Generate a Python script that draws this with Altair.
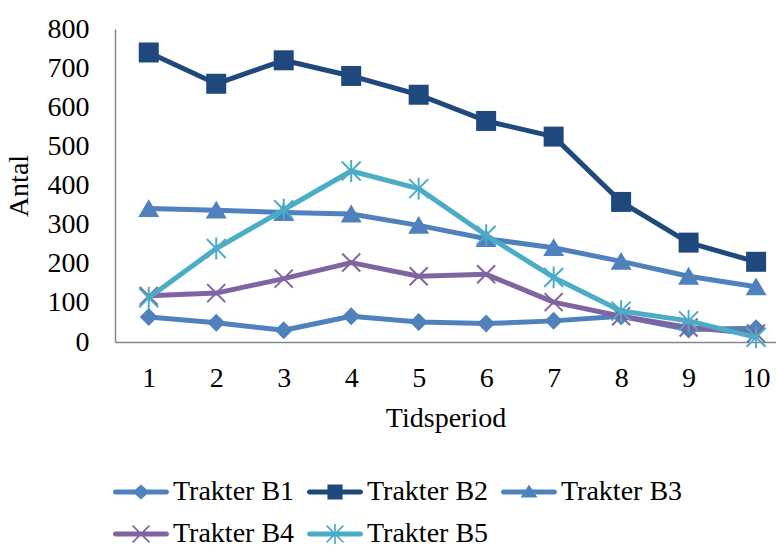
import math

import altair as alt
import pandas as pd

# ---- data -------------------------------------------------------------
periods = [1, 2, 3, 4, 5, 6, 7, 8, 9, 10]
series_names = ["Trakter B1", "Trakter B2", "Trakter B3", "Trakter B4", "Trakter B5"]

b1 = [64, 49, 30, 66, 51, 47, 54, 66, 32, 35]
b2 = [740, 660, 720, 680, 632, 565, 525, 358, 254, 205]
b3 = [341, 337, 331, 327, 298, 264, 241, 206, 168, 141]
b4 = [118, 125, 162, 203, 168, 173, 102, 66, 37, 22]
b5 = [113, 239, 338, 437, 392, 273, 165, 79, 54, 12]

series_values = [b1, b2, b3, b4, b5]
colors = ["#4F81BD", "#1F497D", "#4F81BD", "#8064A2", "#4BACC6"]
y_ticks = [0, 100, 200, 300, 400, 500, 600, 700, 800]

rows = []
for name, vals in zip(series_names, series_values):
    for p, v in zip(periods, vals):
        rows.append({"series": name, "period": p, "antal": v})
df = pd.DataFrame(rows)

FONT = "Liberation Serif"


# ---- symbol paths -----------------------------------------------------
def polygon(points):
    """Closed SVG polygon, always wound the same way so overlaps stay filled."""
    area = sum(points[i][0] * points[(i + 1) % len(points)][1]
               - points[(i + 1) % len(points)][0] * points[i][1]
               for i in range(len(points)))
    if area < 0:
        points = points[::-1]
    return "M" + "L".join(f"{x:.3f},{y:.3f}" for x, y in points) + "Z"


def bar(x0, y0, x1, y1, w):
    dx, dy = x1 - x0, y1 - y0
    ln = math.hypot(dx, dy)
    nx, ny = -dy / ln * w / 2, dx / ln * w / 2
    return polygon([(x0 + nx, y0 + ny), (x1 + nx, y1 + ny),
                    (x1 - nx, y1 - ny), (x0 - nx, y0 - ny)])


# legend: line segment with the marker in its middle (unit = 28 px)
r = 0.09
leg_line = (f"M{-1 + r},{-r}L{1 - r},{-r}A{r},{r} 0 0 1 {1 - r},{r}"
            f"L{-1 + r},{r}A{r},{r} 0 0 1 {-1 + r},{-r}Z")
leg_marks = [
    polygon([(0, -0.27), (0.3, 0), (0, 0.27), (-0.3, 0)]),
    polygon([(-0.27, -0.27), (0.27, -0.27), (0.27, 0.27), (-0.27, 0.27)]),
    polygon([(0, -0.27), (0.3, 0.2), (-0.3, 0.2)]),
    bar(-0.3, -0.3, 0.3, 0.3, 0.06) + bar(-0.3, 0.3, 0.3, -0.3, 0.06),
    bar(-0.3, -0.3, 0.3, 0.3, 0.06) + bar(-0.3, 0.3, 0.3, -0.3, 0.06)
    + bar(0, -0.36, 0, 0.36, 0.06),
]
legend_shapes = [leg_line + m for m in leg_marks]

# plot markers: (path, size, filled)
markers = [
    ("M0,-1L1,0L0,1L-1,0Z", 324, True),
    ("M-1,-1L1,-1L1,1L-1,1Z", 400, True),
    ("M0,-0.9L1,0.8L-1,0.8Z", 441, True),
    ("M-1,-1L1,1M-1,1L1,-1", 324, False),
    ("M-1,-1L1,1M-1,1L1,-1M0,-1.15L0,1.15", 361, False),
]

# ---- encodings --------------------------------------------------------
x_enc = alt.X(
    "period:Q",
    scale=alt.Scale(domain=[0.5, 10.295], nice=False, zero=False),
    axis=alt.Axis(values=periods, title="Tidsperiod", labelPadding=22,
                  titlePadding=12),
)
y_enc = alt.Y(
    "antal:Q",
    scale=alt.Scale(domain=[0, 800], nice=False),
    axis=alt.Axis(values=y_ticks, title="Antal", labelPadding=26,
                  titlePadding=14),
)

legend = alt.Legend(
    title=None, orient="none", legendX=-2, legendY=435,
    direction="horizontal", columns=3, columnPadding=12, rowPadding=0,
    symbolSize=3136, symbolStrokeWidth=0, symbolOpacity=1,
    labelFont=FONT, labelFontSize=28, labelColor="black", labelOffset=4,
    labelLimit=400, padding=0, symbolOffset=0,
)

legend_layer = alt.Chart(df).mark_point(filled=True, opacity=0).encode(
    x=x_enc,
    y=y_enc,
    color=alt.Color("series:N", scale=alt.Scale(domain=series_names, range=colors),
                    legend=legend),
    shape=alt.Shape("series:N", scale=alt.Scale(domain=series_names, range=legend_shapes),
                    legend=legend),
)

layers = [legend_layer]
for name, col, (path, size, filled) in zip(series_names, colors, markers):
    base = alt.Chart(df).transform_filter(alt.datum.series == name)
    layers.append(base.mark_line(color=col, strokeWidth=5, strokeJoin="round",
                                 strokeCap="round").encode(x=x_enc, y=y_enc))
    if filled:
        mk = base.mark_point(shape=path, size=size, filled=True, fill=col,
                             strokeWidth=0, opacity=1)
    else:
        mk = base.mark_point(shape=path, size=size, filled=False, stroke=col,
                             strokeWidth=2, opacity=1)
    layers.append(mk.encode(x=x_enc, y=y_enc))

chart = alt.layer(*layers).properties(
    width=661,
    height=313,
    autosize=alt.AutoSizeParams(type="none"),
    padding={"left": 115, "top": 29, "right": 0, "bottom": 208},
).configure_view(stroke=None).configure_axis(
    domainColor="#868686", domainWidth=1.5, grid=False, ticks=False,
    labelFont=FONT, labelFontSize=28, labelColor="black",
    titleFont=FONT, titleFontSize=28, titleFontWeight="normal", titleColor="black",
)

chart.save("out.html", embed_options={"renderer": "svg", "actions": False})
